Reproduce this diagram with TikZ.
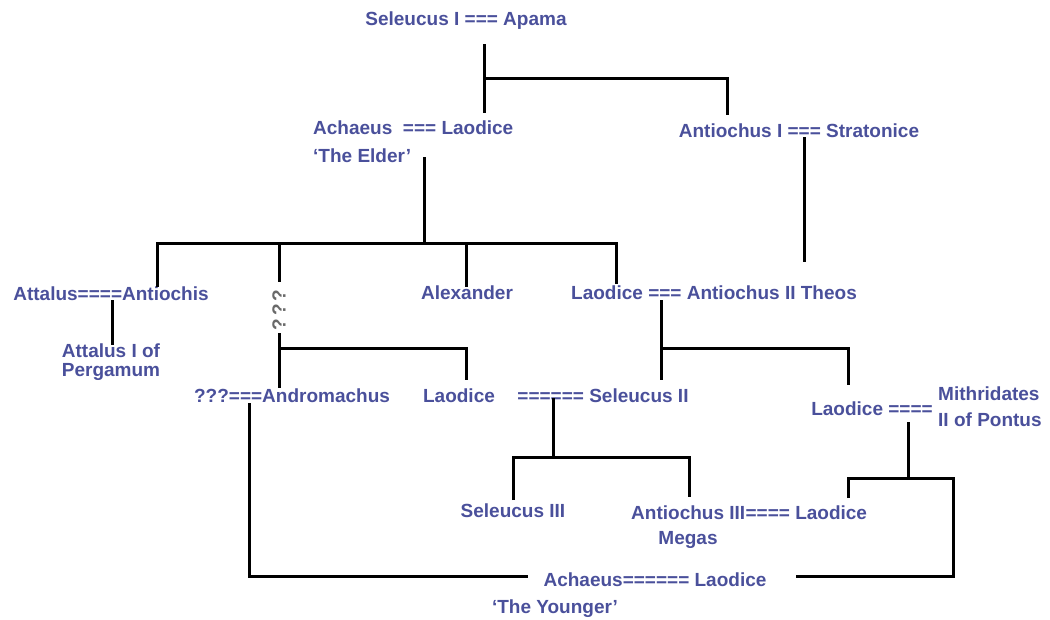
\documentclass[tikz,border=0pt]{standalone}
\usepackage{fontspec}
\setmainfont{Liberation Sans}
\usepackage{xcolor}
\definecolor{royal}{RGB}{74,80,155}
\definecolor{unknown}{RGB}{105,105,105}
\begin{document}
\begin{tikzpicture}[x=1pt, y=-1pt,
  person/.style={text=royal, font=\fontsize{19}{21}\selectfont\bfseries, inner sep=0pt, anchor=base},
  tie/.style={line width=3pt}]
\useasboundingbox (0,0) rectangle (1050,619);
% generation 1 and 2
\node[person] (seleucusI) at (466,25) {Seleucus I === Apama};
\node[person, anchor=base west] (achaeusE) at (313,134) {Achaeus\ \ === Laodice};
\node[person, anchor=base west] (elder) at (313,162) {‘The Elder’};
\node[person] (antiochusI) at (799,137) {Antiochus I === Stratonice};
% generation 3
\node[person] (attalus) at (111,300) {Attalus====Antiochis};
\node[person] (attalusI) at (111,357) {Attalus I of};
\node[person] (pergamum) at (111,376) {Pergamum};
\node[person, text=unknown, rotate=90, anchor=center] (qqq) at (279,310) {?\kern3pt?\kern3pt?};
\node[person] (alexander) at (467,299) {Alexander};
\node[person] (antiochusII) at (714,299) {Laodice === Antiochus II Theos};
% generation 4
\node[person] (andromachus) at (292,402) {???===Andromachus};
\node[person] (laodiceA) at (459,402) {Laodice};
\node[person] (seleucusII) at (603,402) {====== Seleucus II};
\node[person] (laodiceB) at (872,415) {Laodice ====};
\node[person, anchor=base west] (mithridates) at (938,400) {Mithridates};
\node[person, anchor=base west] (pontus) at (938,426) {II of Pontus};
% generation 5
\node[person] (seleucusIII) at (513,517) {Seleucus III};
\node[person, anchor=base west] (antiochusIII) at (631,519) {Antiochus III};
\node[person, anchor=base west] (laodiceC) at (antiochusIII.base east) {==== Laodice};
\node[person] (megas) at (688,544) {Megas};
\node[person] (achaeusY) at (655,586) {Achaeus====== Laodice};
\node[person] (younger) at (555,613) {‘The Younger’};
% line ends and junctions
\coordinate (s1) at (484,44); \coordinate (s2) at (484,113); \coordinate (s3) at (484,78); \coordinate (s4) at (727,115);
\coordinate (a1) at (424,157); \coordinate (a2) at (424,243);
\coordinate (a3) at (157,287); \coordinate (a4) at (616,284); \coordinate (a5) at (157,243); \coordinate (a6) at (616,243);
\coordinate (a7) at (279,243); \coordinate (a8) at (279,282); \coordinate (a9) at (466,243); \coordinate (a10) at (466,287);
\coordinate (t1) at (804,137); \coordinate (t2) at (804,262);
\coordinate (p1) at (112,300); \coordinate (p2) at (112,345);
\coordinate (m1) at (279,333); \coordinate (m2) at (279,388); \coordinate (m3) at (279,348); \coordinate (m4) at (466,380);
\coordinate (k1) at (661,300); \coordinate (k2) at (661,380); \coordinate (k3) at (661,348); \coordinate (k4) at (848,385);
\coordinate (c1) at (553,398); \coordinate (c2) at (553,457); \coordinate (c3) at (513,500); \coordinate (c4) at (689,497);
\coordinate (c5) at (513,457); \coordinate (c6) at (689,457);
\coordinate (d1) at (908,422); \coordinate (d2) at (908,478); \coordinate (d3) at (848,498); \coordinate (d4) at (848,478);
\coordinate (d5) at (953,478); \coordinate (d6) at (953,576); \coordinate (d7) at (796,576);
\coordinate (e1) at (249,403); \coordinate (e2) at (249,576); \coordinate (e3) at (528,576);
% connectors
\draw[tie] (s1) -- (s2); \draw[tie] (s3) -| (s4);
\draw[tie] (a1) -- (a2); \draw[tie] (a3) -- (a5) -- (a6) -- (a4);
\draw[tie] (a7) -- (a8); \draw[tie] (a9) -- (a10);
\draw[tie] (t1) -- (t2);
\draw[tie] (p1) -- (p2);
\draw[tie] (m1) -- (m2); \draw[tie] (m3) -| (m4);
\draw[tie] (k1) -- (k2); \draw[tie] (k3) -| (k4);
\draw[tie] (c1) -- (c2); \draw[tie] (c3) -- (c5) -- (c6) -- (c4);
\draw[tie] (d1) -- (d2); \draw[tie] (d3) -- (d4) -- (d5) -- (d6) -- (d7);
\draw[tie] (e1) -- (e2) -- (e3);
\end{tikzpicture}
\end{document}
